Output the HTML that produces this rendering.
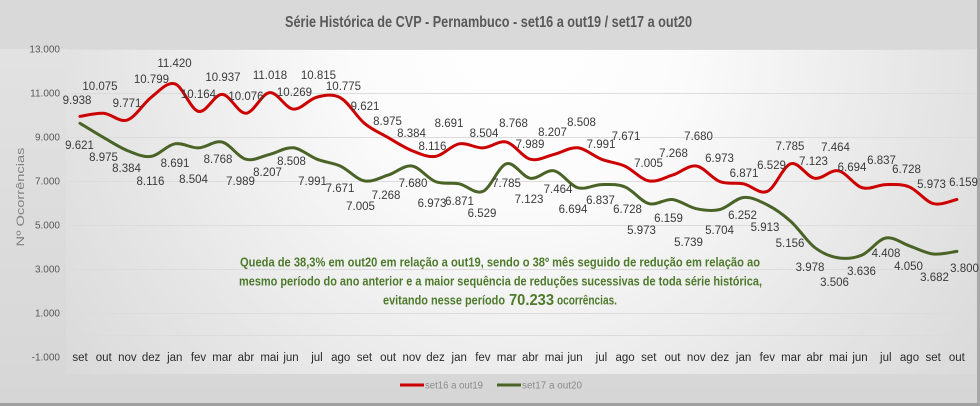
<!DOCTYPE html>
<html><head><meta charset="utf-8">
<style>
html,body{margin:0;padding:0;width:980px;height:406px;overflow:hidden;background:#d9d9d9;}
svg{display:block;}
text{font-family:"Liberation Sans",Arial,sans-serif;}
.dl{font-size:11.5px;fill:#3a3a3a;text-anchor:middle;}
.mo{font-size:11.5px;fill:#2a2a2a;text-anchor:middle;}
.yl{font-size:10px;fill:#595959;text-anchor:end;}
.an{font-size:13px;font-weight:bold;fill:#4e7a2c;}
</style></head><body>
<svg width="980" height="406" viewBox="0 0 980 406" xmlns="http://www.w3.org/2000/svg">
<defs>
<radialGradient id="pa" gradientUnits="userSpaceOnUse" cx="520" cy="40" r="560">
<stop offset="0" stop-color="#ffffff"/>
<stop offset="0.3" stop-color="#fbfbfb"/>
<stop offset="0.72" stop-color="#e6e6e6"/>
<stop offset="1" stop-color="#dadada"/>
</radialGradient>
<linearGradient id="ca" x1="0" y1="0" x2="0" y2="1">
<stop offset="0" stop-color="#e2e2e2"/>
<stop offset="1" stop-color="#d6d6d6"/>
</linearGradient>
</defs>
<rect x="0" y="49" width="980" height="357" fill="url(#ca)"/>
<rect x="66" y="49" width="910" height="325" fill="url(#pa)"/>
<rect x="0" y="0" width="980" height="49" fill="#d9d9d9"/>
<!-- borders -->
<rect x="977" y="0" width="3" height="406" fill="#a8a8a8"/>
<rect x="0" y="403" width="980" height="3" fill="#a0a0a0"/>

<!-- gridlines -->
<g stroke="#dcdcdc" stroke-width="1">
<line x1="68" y1="49.5" x2="975" y2="49.5"/>
<line x1="68" y1="93.5" x2="975" y2="93.5"/>
<line x1="68" y1="137.5" x2="975" y2="137.5"/>
<line x1="68" y1="181.5" x2="975" y2="181.5"/>
<line x1="68" y1="225.5" x2="975" y2="225.5"/>
<line x1="68" y1="269.5" x2="975" y2="269.5"/>
<line x1="68" y1="313.5" x2="975" y2="313.5"/>
<line x1="68" y1="335.5" x2="975" y2="335.5"/>
</g>

<!-- title -->
<text x="285" y="27" font-size="16" font-weight="bold" fill="#595959" textLength="407" lengthAdjust="spacingAndGlyphs">Série Histórica de CVP - Pernambuco - set16 a out19 /  set17 a out20</text>

<!-- y axis labels -->
<text class="yl" x="60" y="52.5">13.000</text>
<text class="yl" x="60" y="96.5">11.000</text>
<text class="yl" x="60" y="140.5">9.000</text>
<text class="yl" x="60" y="184.5">7.000</text>
<text class="yl" x="60" y="228.5">5.000</text>
<text class="yl" x="60" y="272.5">3.000</text>
<text class="yl" x="60" y="316.5">1.000</text>
<text class="yl" x="60" y="360.5">-1.000</text>

<!-- y title -->
<text transform="translate(24,197) rotate(-90)" text-anchor="middle" font-size="11" fill="#808080" textLength="99" lengthAdjust="spacingAndGlyphs">Nº Ocorrências</text>

<!-- series -->
<path id="red" fill="none" stroke="#cc0000" stroke-width="3" stroke-linejoin="round" stroke-linecap="round" d="M80,116.4 L103.7,113.4 L127.4,120 L151.1,97.4 L174.8,83.8 L198.5,111.4 L222.2,94.4 L245.9,113.3 L269.6,92.6 L293.3,109.1 L317,97.1 L340.7,98 L364.4,123.3 L388.1,137.6 L411.8,150.6 L435.5,156.4 L459.2,143.8 L482.9,147.9 L506.6,142.1 L530.3,159.2 L554,154.4 L577.7,147.8 L601.4,159.2 L625.1,166.2 L648.8,180.9 L672.5,175.1 L696.2,166 L719.9,181.6 L743.6,183.8 L767.3,191.4 L791,163.7 L814.7,178.3 L838.4,170.8 L862.1,187.7 L885.8,184.6 L909.5,187 L933.2,203.6 L956.9,199.5"/>
<path id="green" fill="none" stroke="#4a6326" stroke-width="3" stroke-linejoin="round" stroke-linecap="round" d="M80,123.3 L103.7,137.6 L127.4,150.6 L151.1,156.4 L174.8,143.8 L198.5,147.9 L222.2,142.1 L245.9,159.2 L269.6,154.4 L293.3,147.8 L317,159.2 L340.7,166.2 L364.4,180.9 L388.1,175.1 L411.8,166 L435.5,181.6 L459.2,183.8 L482.9,191.4 L506.6,163.7 L530.3,178.3 L554,170.8 L577.7,187.7 L601.4,184.6 L625.1,187 L648.8,203.6 L672.5,199.5 L696.2,208.7 L719.9,209.5 L743.6,197.5 L767.3,204.9 L791,221.6 L814.7,247.5 L838.4,257.9 L862.1,255 L885.8,238 L909.5,245.9 L933.2,254 L956.9,251.4"/>

<!-- red data labels -->
<g class="dl">
<text class="dl" x="77" y="104">9.938</text>
<text class="dl" x="100" y="90">10.075</text>
<text class="dl" x="127" y="107">9.771</text>
<text class="dl" x="151.5" y="83">10.799</text>
<text class="dl" x="174.5" y="67">11.420</text>
<text class="dl" x="198.5" y="98">10.164</text>
<text class="dl" x="223" y="81">10.937</text>
<text class="dl" x="246" y="100">10.076</text>
<text class="dl" x="270" y="79">11.018</text>
<text class="dl" x="294.5" y="96">10.269</text>
<text class="dl" x="318.5" y="79">10.815</text>
<text class="dl" x="343.5" y="90">10.775</text>
<text class="dl" x="365" y="110">9.621</text>
<text class="dl" x="387.5" y="125">8.975</text>
<text class="dl" x="411.5" y="137">8.384</text>
<text class="dl" x="432.5" y="150">8.116</text>
<text class="dl" x="449" y="127">8.691</text>
<text class="dl" x="484" y="137">8.504</text>
<text class="dl" x="513.5" y="127">8.768</text>
<text class="dl" x="530" y="148">7.989</text>
<text class="dl" x="552.5" y="136">8.207</text>
<text class="dl" x="581.5" y="126">8.508</text>
<text class="dl" x="601" y="148">7.991</text>
<text class="dl" x="626" y="140">7.671</text>
<text class="dl" x="648.5" y="167">7.005</text>
<text class="dl" x="673.5" y="157">7.268</text>
<text class="dl" x="698.5" y="140">7.680</text>
<text class="dl" x="719.5" y="162">6.973</text>
<text class="dl" x="744" y="177">6.871</text>
<text class="dl" x="771.5" y="169">6.529</text>
<text class="dl" x="790" y="150">7.785</text>
<text class="dl" x="813.5" y="165">7.123</text>
<text class="dl" x="835.5" y="151">7.464</text>
<text class="dl" x="852" y="171">6.694</text>
<text class="dl" x="881.5" y="164">6.837</text>
<text class="dl" x="906.5" y="173">6.728</text>
<text class="dl" x="931.5" y="188">5.973</text>
<text class="dl" x="963.5" y="186">6.159</text>
</g>

<!-- green data labels -->
<g class="dl">
<text class="dl" x="79.5" y="149">9.621</text>
<text class="dl" x="103.5" y="161">8.975</text>
<text class="dl" x="126.5" y="172">8.384</text>
<text class="dl" x="150.5" y="185">8.116</text>
<text class="dl" x="175" y="167">8.691</text>
<text class="dl" x="193.5" y="183">8.504</text>
<text class="dl" x="218" y="163">8.768</text>
<text class="dl" x="240.5" y="185">7.989</text>
<text class="dl" x="267.5" y="176">8.207</text>
<text class="dl" x="291.5" y="165">8.508</text>
<text class="dl" x="312.5" y="185">7.991</text>
<text class="dl" x="340" y="192">7.671</text>
<text class="dl" x="360.5" y="210">7.005</text>
<text class="dl" x="386" y="199">7.268</text>
<text class="dl" x="413" y="187">7.680</text>
<text class="dl" x="432" y="207">6.973</text>
<text class="dl" x="459.5" y="205">6.871</text>
<text class="dl" x="482" y="217">6.529</text>
<text class="dl" x="506.5" y="187">7.785</text>
<text class="dl" x="529" y="203">7.123</text>
<text class="dl" x="558" y="193">7.464</text>
<text class="dl" x="573" y="213">6.694</text>
<text class="dl" x="600.5" y="204">6.837</text>
<text class="dl" x="627.5" y="213">6.728</text>
<text class="dl" x="641.5" y="234">5.973</text>
<text class="dl" x="668.5" y="222">6.159</text>
<text class="dl" x="688.5" y="246">5.739</text>
<text class="dl" x="719.5" y="234">5.704</text>
<text class="dl" x="742.5" y="219">6.252</text>
<text class="dl" x="765" y="231">5.913</text>
<text class="dl" x="790" y="247">5.156</text>
<text class="dl" x="810" y="271">3.978</text>
<text class="dl" x="834.5" y="286">3.506</text>
<text class="dl" x="861.5" y="275">3.636</text>
<text class="dl" x="886" y="257">4.408</text>
<text class="dl" x="908.5" y="270">4.050</text>
<text class="dl" x="934.5" y="281">3.682</text>
<text class="dl" x="964.5" y="272">3.800</text>
</g>

<!-- annotation -->
<text class="an" x="240" y="266.5" textLength="520" lengthAdjust="spacingAndGlyphs">Queda de 38,3% em out20 em relação a out19, sendo o 38º mês seguido de redução em relação ao</text>
<text class="an" x="239" y="285.5" textLength="523" lengthAdjust="spacingAndGlyphs">mesmo período do ano anterior e a maior sequência de reduções sucessivas de toda série histórica,</text>
<text class="an" x="383" y="304.5" textLength="122" lengthAdjust="spacingAndGlyphs">evitando nesse período</text>
<text class="an" x="509" y="305" font-size="16" textLength="45" lengthAdjust="spacingAndGlyphs" style="font-size:16px">70.233</text>
<text class="an" x="557" y="304.5" textLength="60" lengthAdjust="spacingAndGlyphs">ocorrências.</text>

<!-- month labels -->
<g>
<text class="mo" x="80" y="361">set</text>
<text class="mo" x="103.7" y="361">out</text>
<text class="mo" x="127.4" y="361">nov</text>
<text class="mo" x="151.1" y="361">dez</text>
<text class="mo" x="174.8" y="361">jan</text>
<text class="mo" x="198.5" y="361">fev</text>
<text class="mo" x="222.2" y="361">mar</text>
<text class="mo" x="245.9" y="361">abr</text>
<text class="mo" x="269.6" y="361">mai</text>
<text class="mo" x="291" y="361">jun</text>
<text class="mo" x="317" y="361">jul</text>
<text class="mo" x="340.7" y="361">ago</text>
<text class="mo" x="364.4" y="361">set</text>
<text class="mo" x="388.1" y="361">out</text>
<text class="mo" x="411.8" y="361">nov</text>
<text class="mo" x="435.5" y="361">dez</text>
<text class="mo" x="459.2" y="361">jan</text>
<text class="mo" x="482.9" y="361">fev</text>
<text class="mo" x="506.6" y="361">mar</text>
<text class="mo" x="530.3" y="361">abr</text>
<text class="mo" x="554" y="361">mai</text>
<text class="mo" x="575" y="361">jun</text>
<text class="mo" x="601.4" y="361">jul</text>
<text class="mo" x="625.1" y="361">ago</text>
<text class="mo" x="648.8" y="361">set</text>
<text class="mo" x="672.5" y="361">out</text>
<text class="mo" x="696.2" y="361">nov</text>
<text class="mo" x="719.9" y="361">dez</text>
<text class="mo" x="743.6" y="361">jan</text>
<text class="mo" x="767.3" y="361">fev</text>
<text class="mo" x="791" y="361">mar</text>
<text class="mo" x="814.7" y="361">abr</text>
<text class="mo" x="838.4" y="361">mai</text>
<text class="mo" x="860" y="361">jun</text>
<text class="mo" x="885.8" y="361">jul</text>
<text class="mo" x="909.5" y="361">ago</text>
<text class="mo" x="933.2" y="361">set</text>
<text class="mo" x="956.9" y="361">out</text>
</g>

<!-- legend -->
<line x1="400" y1="385" x2="424" y2="385" stroke="#cc0000" stroke-width="3"/>
<text x="425" y="388.5" font-size="10" fill="#8a8a8a" textLength="58" lengthAdjust="spacingAndGlyphs">set16 a out19</text>
<line x1="497" y1="385" x2="521" y2="385" stroke="#4a6326" stroke-width="3"/>
<text x="522" y="388.5" font-size="10" fill="#8a8a8a" textLength="60" lengthAdjust="spacingAndGlyphs">set17 a out20</text>
</svg>
<script>
(function(){
function smooth(pts){
 var d='M'+pts[0][0].toFixed(1)+','+pts[0][1].toFixed(1);
 for(var i=0;i<pts.length-1;i++){
  var p0=pts[i-1]||pts[i],p1=pts[i],p2=pts[i+1],p3=pts[i+2]||p2;
  var c1x=p1[0]+(p2[0]-p0[0])/6,c1y=p1[1]+(p2[1]-p0[1])/6;
  var c2x=p2[0]-(p3[0]-p1[0])/6,c2y=p2[1]-(p3[1]-p1[1])/6;
  d+=' C'+c1x.toFixed(1)+','+c1y.toFixed(1)+' '+c2x.toFixed(1)+','+c2y.toFixed(1)+' '+p2[0].toFixed(1)+','+p2[1].toFixed(1);
 }
 return d;
}
function pts(v){return v.map(function(x,i){return [80+23.7*i,49+(13000-x)*0.022];});}
var r=[9938,10075,9771,10799,11420,10164,10937,10076,11018,10269,10815,10775,9621,8975,8384,8116,8691,8504,8768,7989,8207,8508,7991,7671,7005,7268,7680,6973,6871,6529,7785,7123,7464,6694,6837,6728,5973,6159];
var g=[9621,8975,8384,8116,8691,8504,8768,7989,8207,8508,7991,7671,7005,7268,7680,6973,6871,6529,7785,7123,7464,6694,6837,6728,5973,6159,5739,5704,6252,5913,5156,3978,3506,3636,4408,4050,3682,3800];
document.getElementById('red').setAttribute('d',smooth(pts(r)));
document.getElementById('green').setAttribute('d',smooth(pts(g)));
})();
</script>
</body></html>
